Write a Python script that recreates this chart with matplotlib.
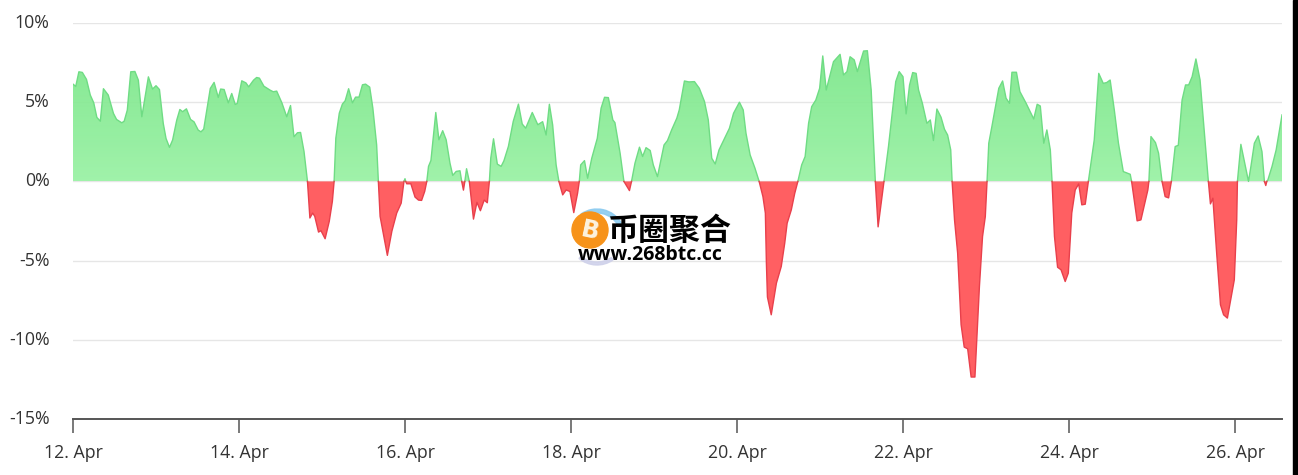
#!/usr/bin/env python3
"""Area chart of a percentage series, green above zero and red below."""

import matplotlib
matplotlib.use("Agg")
import matplotlib.pyplot as plt
import numpy as np
from matplotlib.colors import LinearSegmentedColormap
from matplotlib.patches import Circle, Rectangle, Wedge
from matplotlib.transforms import ScaledTranslation

# Hours since 12 Apr 00:00
HOURS = [
    0, 0.8, 1.7, 2.7, 3.9, 5, 6, 6.9, 7.9, 8.8, 10.2, 11.7, 12.6, 14.1, 14.8,
    15.7, 16.7, 17.9, 18.9, 19.9, 21.8, 23, 24, 25, 26.1, 26.9, 27.9, 28.8,
    30, 30.9, 31.7, 32.8, 34, 35, 36.2, 37, 37.8, 38.7, 39.7, 40.8, 42, 42.7,
    43.7, 44.9, 45.9, 46.9, 47.5, 48.8, 50, 50.8, 52.2, 53.1, 53.9, 55.2, 57,
    57.9, 58.9, 60.4, 61.8, 62.9, 63.9, 64.9, 65.8, 66.8, 67.8,
    68.5, 69.3, 69.9, 71, 71.7, 72.9, 74.1, 75, 75.5,
    76, 77, 77.9, 78.7, 79.7, 80.8, 81.7, 82.7, 83.7, 84.6, 85.8, 86.7, 87.8,
    88.3, 88.8, 90.9, 92.2, 93.6, 94.9, 95.7, 96, 96.2,
    96.5, 97.7, 98.9, 99.9, 100.8, 101.7, 102.3,
    102.8, 103.5, 104.9, 105.8, 106.9, 107.9, 109, 109.8, 110.8, 111.9, 112.4,
    112.9, 113.3, 113.8, 114.6, 115.8, 116.8, 117.8, 118.9, 119.8, 120.4,
    120.8, 121.6, 122.7, 123.8, 124.6, 125.9, 127.3, 128.8, 129.9, 130.9,
    132.8, 134.4, 135.05, 135.8, 136.8, 137.75, 138.7, 139.7, 140.5,
    141.6, 142.6, 143.7, 144.8, 145.9, 146.4,
    146.8, 147.9, 148.8, 150, 151.6, 152.7, 153.7, 154.8, 156.1, 156.7, 158.2,
    159.3, 160.9, 161.5,
    162.5, 163.8, 164.7, 165.7, 166.9, 167.8, 169, 170, 170.9, 171.9, 173.1,
    174.6, 175.3, 176.8, 178.1, 179.7, 181.1, 182.6, 183.7, 184.7, 185.7,
    186.8, 188.1, 189.8, 191, 192.7, 193.8, 194.6, 195.8, 197.2, 198.4,
    199.5, 200.2, 200.5, 200.8, 201.9, 203.4, 204.8, 205.8, 206.5, 207.7,
    208.7, 209.6,
    210.7, 211.7, 212.7, 213.6, 214.8, 215.9, 216.8, 217.8, 219.9, 221.8,
    222.8, 223.8, 224.7, 225.9, 226.8, 228.6, 229.7, 230.8, 232,
    232.8, 234.5,
    235.8, 237, 237.9, 238.9, 240, 240.9, 241.9, 242.8, 243.8, 244.5, 245.6,
    246.9, 247.9, 248.8, 249.8, 251, 252, 252.9, 253.8, 254.2,
    254.9, 255.8, 256.8, 257.7, 258.7, 259.7, 260.8, 262.1, 263, 263.8, 264.3,
    264.8, 265.7, 267.7, 268.8, 269.8, 270.8, 271.5, 272.8, 273.8, 275.6,
    277.8, 278.8, 279.7, 280.7, 281.6, 282.6, 283.1,
    283.8, 284.7, 285.7, 286.9, 287.8, 288.8, 289.8, 290.8, 291.7, 292.7, 293.6,
    295.3, 296.6, 297.9, 298.9, 299.9, 301.1, 302.3, 303.7, 305.7, 306.1,
    307.7, 308.8, 310.8, 311.1,
    311.7, 313, 313.9, 314.9, 315.8, 316.8, 317.6,
    318.7, 319.6, 320.7, 321.7, 322.6, 323.6, 324.7, 325.9, 328.3,
    328.9, 329.6, 330.7, 331.8, 332.7, 333.8, 335.8, 336.5, 336.7,
    337.7, 339.9, 340.6, 341.6, 342.7, 343.8, 344.5,
    344.9, 345.2, 345.5, 346.7, 347.9, 349.6,
]
PCT = [
    6.14, 6.0, 6.92, 6.88, 6.44, 5.45, 4.96, 4.04, 3.8, 5.85, 5.45, 4.29, 3.91,
    3.7, 3.8, 4.5, 6.92, 6.94, 6.39, 4.08, 6.6, 5.83, 6.04, 5.8, 3.66, 2.71,
    2.15, 2.61, 3.87, 4.54, 4.4, 4.58, 3.91, 3.76, 3.24, 3.13, 3.3, 4.5, 5.87,
    6.25, 5.3, 5.83, 5.8, 4.96, 5.55, 4.86, 4.92, 6.35, 6.22, 5.97, 6.39, 6.56,
    6.52, 6.01, 5.76, 5.66, 5.7, 4.96, 4.08, 4.79, 2.82, 3.07, 3.09, 1.89, 0,
    -2.31, -2.0, -2.2, -3.2, -3.11, -3.62, -2.52, -1.26, 0,
    2.73, 4.31, 4.88, 5.09, 5.85, 4.96, 5.32, 5.32, 6.1, 6.14, 5.95, 4.63, 2.31,
    0, -2.21, -4.67, -3.15, -2.0, -1.37, 0, 0.17, 0,
    -0.15, -0.15, -0.99, -1.18, -1.2, -0.63, 0,
    0.95, 1.32, 4.35, 2.63, 3.2, 2.63, 1.16, 0.38, 0.63, 0.67, 0,
    -0.55, 0, 0.8, 0, -2.38, -1.32, -1.85, -1.18, -1.35, 0,
    1.47, 2.69, 1.09, 0.95, 1.3, 2.21, 3.79, 4.88, 3.62, 3.36, 4.35, 3.58, 3.67,
    3.77, 2.93, 4.87, 3.56, 1.04, 0,
    -0.85, -0.54, -0.64, -1.97, -0.75, 0,
    1.04, 1.31, 0.2, 1.46, 2.72, 4.62, 5.31, 5.29, 3.88, 3.71, 1.78, 0,
    -0.58, 0,
    1.15, 2.16, 1.57, 2.13, 1.95, 1.04, 0.3, 1.36, 2.3, 2.58, 3.25, 3.99, 4.51,
    6.34, 6.28, 6.3, 5.88, 5.04, 3.88, 1.46, 1.1, 1.99, 2.58, 3.35, 4.3, 5.0,
    4.51, 3.04, 1.67, 0.83, 0,
    -0.96, -2.0, -5.16, -7.3, -8.42, -6.42, -5.37, -3.9, -2.64, -1.8, -0.75, 0,
    1.04, 1.57, 3.67, 4.72, 5.14, 5.88, 7.92, 5.77, 7.56, 8.02, 6.72, 6.93, 7.87,
    7.67, 6.93, 8.23, 8.25, 5.77, 0,
    -2.87, 0,
    2.2, 4.51, 6.3, 6.93, 6.61, 4.26, 6.09, 6.87, 6.82, 5.77, 4.93, 3.67, 3.88,
    2.58, 4.57, 4.05, 3.29, 2.93, 1.99, 0,
    -2.43, -4.53, -9.05, -10.46, -10.57, -12.35, -12.35, -6.63, -3.48, -2.22, 0,
    2.41, 3.46, 5.88, 6.34, 5.25, 4.93, 6.89, 6.89, 5.67, 4.93, 3.94, 4.87, 4.76,
    2.41, 3.25, 1.99, 0,
    -3.48, -5.42, -5.58, -6.32, -5.79, -2.0, -0.54, -0.16, -1.48, -1.44, 0,
    2.62, 6.82, 6.19, 6.24, 6.4, 4.51, 2.41, 0.62, 0.45, 0,
    -2.49, -2.43, -0.54, 0,
    2.83, 2.45, 1.78, 0, -0.96, -1.04, 0,
    2.2, 2.28, 5.14, 6.09, 6.09, 6.61, 7.73, 6.4, 0,
    -1.42, -1.06, -4.53, -7.79, -8.42, -8.63, -6.21, -2.43, 0,
    2.34, 0, 0.94, 2.41, 2.87, 1.88, 0,
    -0.26, 0, 0.09, 0.94, 1.99, 4.2,
]
Y_TICKS = [-15, -10, -5, 0, 5, 10]
X_TICK_DAYS = [0, 2, 4, 6, 8, 10, 12, 14]
X_TICK_LABELS = ["12. Apr", "14. Apr", "16. Apr", "18. Apr",
                 "20. Apr", "22. Apr", "24. Apr", "26. Apr"]

WIDTH, HEIGHT = 1298, 475
TEXT = "#333333"

plt.rcParams["font.family"] = ["Open Sans", "DejaVu Sans"]

x = np.array(HOURS) / 24
y = np.array(PCT, dtype=float)

fig = plt.figure(figsize=(WIDTH / 100, HEIGHT / 100), dpi=100)
ax = fig.add_axes([73 / WIDTH, 1 - 419 / HEIGHT, 1209 / WIDTH, 396 / HEIGHT])

# Green area: gradient image clipped to the positive part of the series
area = ax.fill_between(x, 0, np.clip(y, 0, None), facecolor="none", linewidth=0)
cmap = LinearSegmentedColormap.from_list(
    "up", [(0.62, 0.95, 0.66, 0.98), (0.46, 0.90, 0.52, 0.88)])
im = ax.imshow(np.linspace(0, 1, 64).reshape(-1, 1), cmap=cmap, origin="lower",
               aspect="auto", extent=[x[0], x[-1], 0, y.max()], zorder=2)
im.set_clip_path(area.get_paths()[0], transform=ax.transData)

ax.fill_between(x, 0, np.clip(y, None, 0), facecolor="#ff5f62", linewidth=0,
                zorder=2)
ax.plot(x, np.where(y >= 0, y, np.nan), color="#6fdc84", lw=1, zorder=3)
ax.plot(x, np.where(y <= 0, y, np.nan), color="#e8404c", lw=1, zorder=3)

ax.set_xlim(0, 1209 / 83)
ax.set_ylim(-15, 10)
ax.set_yticks(Y_TICKS)
ax.set_yticklabels([f"{v}%" for v in Y_TICKS])
ax.set_xticks(X_TICK_DAYS)
ax.set_xticklabels(X_TICK_LABELS)
ax.grid(axis="y", color="#e6e6e6", lw=1, zorder=1)
ax.set_axisbelow(True)
for side in ["top", "left", "right"]:
    ax.spines[side].set_visible(False)
ax.spines["bottom"].set_color("#555555")
ax.spines["bottom"].set_linewidth(1.4)
ax.tick_params(axis="x", length=10, width=1.1, color="#555555", pad=8,
               labelsize=12.8, labelcolor=TEXT)
ax.tick_params(axis="y", length=0, pad=17, labelsize=12.8, labelcolor=TEXT)

# y labels sit about 2 px above their grid lines
lift = ScaledTranslation(0, 2 / 100, fig.dpi_scale_trans)
for label in ax.get_yticklabels():
    label.set_transform(label.get_transform() + lift)

# Watermark and the black strip on the right, in pixel coordinates
over = fig.add_axes([0, 0, 1, 1], zorder=5)
over.set_xlim(0, WIDTH)
over.set_ylim(HEIGHT, 0)
over.axis("off")
over.patch.set_alpha(0)
over.add_patch(Rectangle((1293, 0), 5, HEIGHT, color="black"))
over.add_patch(Wedge((597, 237), 28, 235, 330, width=4, color="#8ccbf0", alpha=0.9))
over.add_patch(Wedge((597, 237), 28, 55, 130, width=3, color="#cfd1ea", alpha=0.9))
over.add_patch(Circle((590, 230), 18, color="#f7931a"))
over.text(590, 231, "B", color="#fdf3e0", fontsize=17, fontweight="bold",
          ha="center", va="center", rotation=-12, family="DejaVu Sans")
over.text(670, 231, "币圈聚合", color="black", fontsize=22.3, fontweight="bold",
          ha="center", va="center", family=["Noto Sans CJK SC", "DejaVu Sans"])
over.text(650, 255, "www.268btc.cc", color="black", fontsize=14, fontweight="bold",
          ha="center", va="center", family="Open Sans")

fig.savefig("out.png", dpi=100)
